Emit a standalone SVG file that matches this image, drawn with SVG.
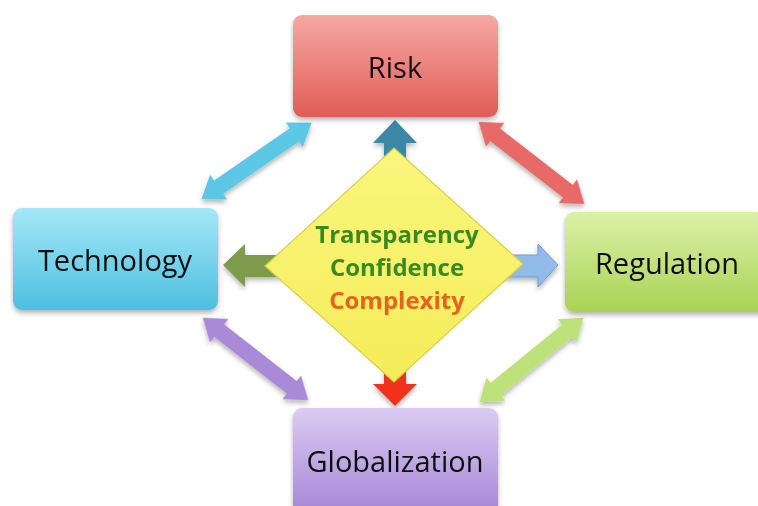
<svg xmlns="http://www.w3.org/2000/svg" width="758" height="506" viewBox="0 0 758 506">
  <defs>
    <linearGradient id="gRisk" x1="0" y1="0" x2="0" y2="1">
      <stop offset="0" stop-color="#f7a8a4"/>
      <stop offset="1" stop-color="#e05c56"/>
    </linearGradient>
    <linearGradient id="gTech" x1="0" y1="0" x2="0" y2="1">
      <stop offset="0" stop-color="#a4e8f7"/>
      <stop offset="1" stop-color="#4dbfe0"/>
    </linearGradient>
    <linearGradient id="gReg" x1="0" y1="0" x2="0" y2="1">
      <stop offset="0" stop-color="#dcf1a8"/>
      <stop offset="1" stop-color="#a9d254"/>
    </linearGradient>
    <linearGradient id="gGlob" x1="0" y1="0" x2="0" y2="1">
      <stop offset="0" stop-color="#dccbf2"/>
      <stop offset="1" stop-color="#a383d4"/>
    </linearGradient>
    <linearGradient id="gDia" x1="0" y1="0" x2="0" y2="1">
      <stop offset="0" stop-color="#fbf67e"/>
      <stop offset="1" stop-color="#f5ec58"/>
    </linearGradient>
    <filter id="shadow" x="-20%" y="-20%" width="140%" height="150%">
      <feGaussianBlur in="SourceAlpha" stdDeviation="2.5"/>
      <feOffset dx="0" dy="3" result="b"/>
      <feComponentTransfer><feFuncA type="linear" slope="0.3"/></feComponentTransfer>
      <feMerge><feMergeNode/><feMergeNode in="SourceGraphic"/></feMerge>
    </filter>
    <!-- double-headed block arrow along x axis, centred on origin -->
    <path id="dbl" d="M-67 0 L-46 -15 L-46 -8 L46 -8 L46 -15 L67 0 L46 15 L46 8 L-46 8 L-46 15 Z"/>
  </defs>
  <style>
    .box { filter: url(#shadow); }
    .lbl { font-family: "Open Sans", "Liberation Sans", sans-serif; font-size: 29px; fill: #111; text-anchor: middle; }
    .core { font-family: "Open Sans", "Liberation Sans", sans-serif; font-size: 24px; font-weight: bold; text-anchor: middle; }
  </style>

  <rect width="758" height="506" fill="#ffffff"/>

  <g id="connectors" filter="url(#shadow)">
    <use href="#dbl" fill="#5cc8e6" transform="translate(256.5,161) rotate(-34.7)"/>
    <use href="#dbl" fill="#e86a68" transform="translate(531.5,163) rotate(37.8)"/>
    <use href="#dbl" fill="#a88ad8" transform="translate(255.5,359) rotate(38)"/>
    <use href="#dbl" fill="#bde27a" transform="translate(531.5,360) rotate(-39.2)"/>
    <!-- outward arrows from the centre -->
    <path d="M395 120 L417 143 L406 143 L406 175 L384 175 L384 143 L373 143 Z" fill="#3d87a6"/>
    <path d="M223 265 L245 244 L245 255 L290 255 L290 277 L245 277 L245 287 Z" fill="#7d9b4c"/>
    <path d="M558 265 L538 244 L538 255 L500 255 L500 277 L538 277 L538 287 Z" fill="#92bbea" stroke="#6e9bd0" stroke-width="1"/>
    <path d="M395 406 L417 384 L406 384 L406 355 L384 355 L384 384 L373 384 Z" fill="#f0321e"/>
  </g>

  <g id="risk" class="box">
    <rect x="293" y="15" width="205" height="102" rx="9" fill="url(#gRisk)"/>
    <text class="lbl" x="395" y="78">Risk</text>
  </g>

  <g id="technology" class="box">
    <rect x="13" y="208" width="205" height="102" rx="9" fill="url(#gTech)"/>
    <text class="lbl" x="115" y="271">Technology</text>
  </g>

  <g id="regulation" class="box">
    <rect x="565" y="212" width="210" height="100" rx="9" fill="url(#gReg)"/>
    <text class="lbl" x="667" y="274">Regulation</text>
  </g>

  <g id="globalization" class="box">
    <rect x="293" y="408" width="205" height="110" rx="9" fill="url(#gGlob)"/>
    <text class="lbl" x="395" y="472">Globalization</text>
  </g>

  <g id="core">
    <polygon points="394,148 523,264 394,382 265,266" fill="url(#gDia)" stroke="#d6cf4a" stroke-width="1.2"/>
    <text class="core" x="397" y="243" fill="#3a8a22">Transparency</text>
    <text class="core" x="397" y="276" fill="#3a8a22">Confidence</text>
    <text class="core" x="397" y="309" fill="#e8621e">Complexity</text>
  </g>
</svg>
